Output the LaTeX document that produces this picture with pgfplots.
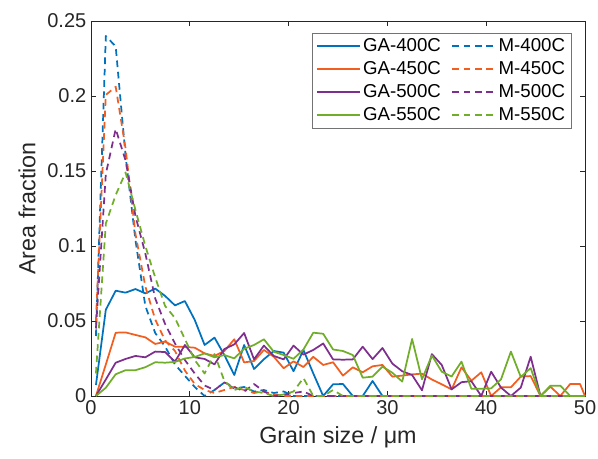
\documentclass[border=0pt]{standalone}
\usepackage{pgfplots}
\usepackage{pgfplotstable}
\pgfplotsset{compat=1.18}
\usepackage{fontspec}
\setmainfont{Liberation Sans}
\definecolor{cblue}{rgb}{0,0.447,0.741}
\definecolor{corange}{rgb}{0.95,0.37,0.12}
\definecolor{cpurple}{rgb}{0.494,0.184,0.556}
\definecolor{cgreen}{rgb}{0.44,0.68,0.16}
\definecolor{axgray}{rgb}{0.15,0.15,0.15}

\pgfplotstableread{
x    ga400  ga450  ga500  ga550  m400  m450   m500  m550
0.5  0.0073 0      0      0      0.040 0.050  0.045 0.015
1.5  0.0575 0.021  0.011  0.0055 0.240 0.2007 0.148 0.115
2.5  0.0702 0.0422 0.0222 0.0145 0.233 0.2062 0.178 0.134
3.5  0.0689 0.0424 0.0247 0.0172 0.160 0.165  0.157 0.149
4.5  0.0713 0.0407 0.0267 0.0172 0.104 0.108  0.120 0.124
5.5  0.0684 0.0391 0.0258 0.0192 0.060 0.073  0.095 0.100
6.5  0.0716 0.0347 0.0296 0.0225 0.042 0.051  0.065 0.079
7.5  0.0667 0.0362 0.0293 0.0222 0.033 0.037  0.048 0.060
8.5  0.0604 0.0329 0.0229 0.0227 0.021 0.030  0.035 0.052
9.5  0.0633 0.0327 0.0340 0.0250 0.0135 0.017 0.024 0.038
10.5 0.0507 0.0322 0.0258 0.0260 0.006 0.008  0.015 0.024
11.5 0.0340 0.0284 0.0247 0.0284 0     0.004  0.007 0.015
12.5 0.0389 0.0267 0.0211 0.0258 0.004 0.002  0.004 0.028
13.5 0.0273 0.0300 0.0313 0.0273 0.009 0.004  0.009 0.010
14.5 0.0140 0.0378 0.0344 0.0251 0.005 0.006  0.006 0.004
15.5 0.0340 0.0224 0.0420 0.0315 0.006 0.004  0.003 0.006
16.5 0.0180 0.0233 0.0244 0.0340 0.003 0.002  0.008 0.003
17.5 0.0245 0.0307 0.0336 0.0378 0.004 0.003  0.003 0.002
18.5 0.0300 0.0262 0.0267 0.0295 0.002 0.001  0     0
19.5 0.0289 0.0185 0.0244 0.0273 0.003 0      0.001 0.001
20.5 0.0165 0.0231 0.0336 0.0248 0     0      0.002 0.003
21.5 0.0307 0.0193 0.0276 0.0310 0     0      0.003 0.012
22.5 0.0150 0.0261 0.0307 0.0422 0     0      0     0
23.5 0      0.0207 0.0350 0.0415 0     0      0     0
24.5 0.0078 0.0225 0.0244 0.0310 0     0      0     0.004
25.5 0.0080 0.0136 0.0242 0.0300 0     0      0     0
26.5 0      0.0191 0.0244 0.0273 0     0      0     0
27.5 0      0.0158 0.0329 0.0122 0     0      0     0
28.5 0.0100 0.0198 0.0246 0.0129 0     0      0     0
29.5 0      0.0207 0.0320 0.0196 0     0      0     0
30.5 0      0.0129 0.0216 0.0155 0     0      0     0
31.5 0      0.0136 0.0165 0.0096 0     0      0     0
32.5 0      0.0144 0.0140 0.0380 0     0      0     0
33.5 0      0.0149 0.0038 0.0111 0     0      0     0
34.5 0      0.0110 0.0279 0.0270 0     0      0     0
35.5 0      0.0078 0.0207 0.0162 0     0      0     0
36.5 0      0.0044 0.0044 0.0130 0     0      0     0
37.5 0      0.0191 0.0092 0.0229 0     0      0     0
38.5 0      0.0102 0.0099 0.0048 0     0      0     0
39.5 0      0.0158 0      0.0048 0     0      0     0
40.5 0      0      0.0162 0.0051 0     0      0     0
41.5 0      0.0058 0.0056 0.0111 0     0      0     0
42.5 0      0.0058 0      0.0296 0     0      0     0
43.5 0      0.0129 0.0056 0.0127 0     0      0     0
44.5 0      0.0133 0.0262 0.0186 0     0      0     0
45.5 0      0      0      0      0     0      0     0
46.5 0      0.0062 0      0.0069 0     0      0     0
47.5 0      0      0      0.0069 0     0      0     0
48.5 0      0.0080 0      0      0     0      0     0
49.5 0      0.0080 0      0      0     0      0     0
50.0 0      0      0      0      0     0      0     0
}\datatable

\begin{document}
\begin{tikzpicture}
\useasboundingbox (-68.25pt,-47.25pt) rectangle (380.25pt,297pt);
\begin{axis}[
  scale only axis,
  width=370.5pt, height=281.25pt,
  xmin=0, xmax=50, ymin=0, ymax=0.25,
  xtick={0,10,20,30,40,50},
  ytick={0,0.05,0.1,0.15,0.2,0.25},
  yticklabel style={/pgf/number format/fixed, /pgf/number format/precision=2},
  /pgf/number format/assume math mode=true,
  tick align=inside,
  major tick length=3.75pt,
  axis line style={axgray, line width=0.5pt},
  every tick/.style={axgray, line width=0.5pt},
  tick label style={font=\fontsize{15}{18}\selectfont, text=axgray},
  xlabel={Grain size / μm},
  ylabel={Area fraction},
  every axis x label/.style={at={(axis description cs:0.5,-0.109)}, anchor=center, font=\fontsize{17.5}{21}\selectfont, text=axgray},
  every axis y label/.style={at={(axis description cs:-0.1296,0.5)}, rotate=90, anchor=center, font=\fontsize{17.5}{21}\selectfont, text=axgray},
  clip=false,
  legend columns=2,
  legend cell align=left,
  legend style={at={(rel axis cs:0.9737,0.968)}, anchor=north east,
     draw=black!55, line width=0.5pt, font=\fontsize{14}{16.5}\selectfont,
     inner xsep=3pt, inner ysep=2pt,
     /tikz/every even column/.append style={column sep=6pt},
     row sep=2pt},
  legend image code/.code={\draw[#1] (0pt,0pt) -- (32pt,0pt);},
]
\addplot[cblue, solid, line width=1.3pt, line join=round] table[x=x, y=ga400] {\datatable};
\addlegendentry{GA-400C}
\addplot[cblue, line width=1.3pt, line join=round, dash pattern=on 5pt off 3.5pt] table[x=x, y=m400] {\datatable};
\addlegendentry{M-400C}
\addplot[corange, solid, line width=1.3pt, line join=round] table[x=x, y=ga450] {\datatable};
\addlegendentry{GA-450C}
\addplot[corange, line width=1.3pt, line join=round, dash pattern=on 5pt off 3.5pt] table[x=x, y=m450] {\datatable};
\addlegendentry{M-450C}
\addplot[cpurple, solid, line width=1.3pt, line join=round] table[x=x, y=ga500] {\datatable};
\addlegendentry{GA-500C}
\addplot[cpurple, line width=1.3pt, line join=round, dash pattern=on 5pt off 3.5pt] table[x=x, y=m500] {\datatable};
\addlegendentry{M-500C}
\addplot[cgreen, solid, line width=1.3pt, line join=round] table[x=x, y=ga550] {\datatable};
\addlegendentry{GA-550C}
\addplot[cgreen, line width=1.3pt, line join=round, dash pattern=on 5pt off 3.5pt] table[x=x, y=m550] {\datatable};
\addlegendentry{M-550C}
\end{axis}
\end{tikzpicture}
\end{document}
